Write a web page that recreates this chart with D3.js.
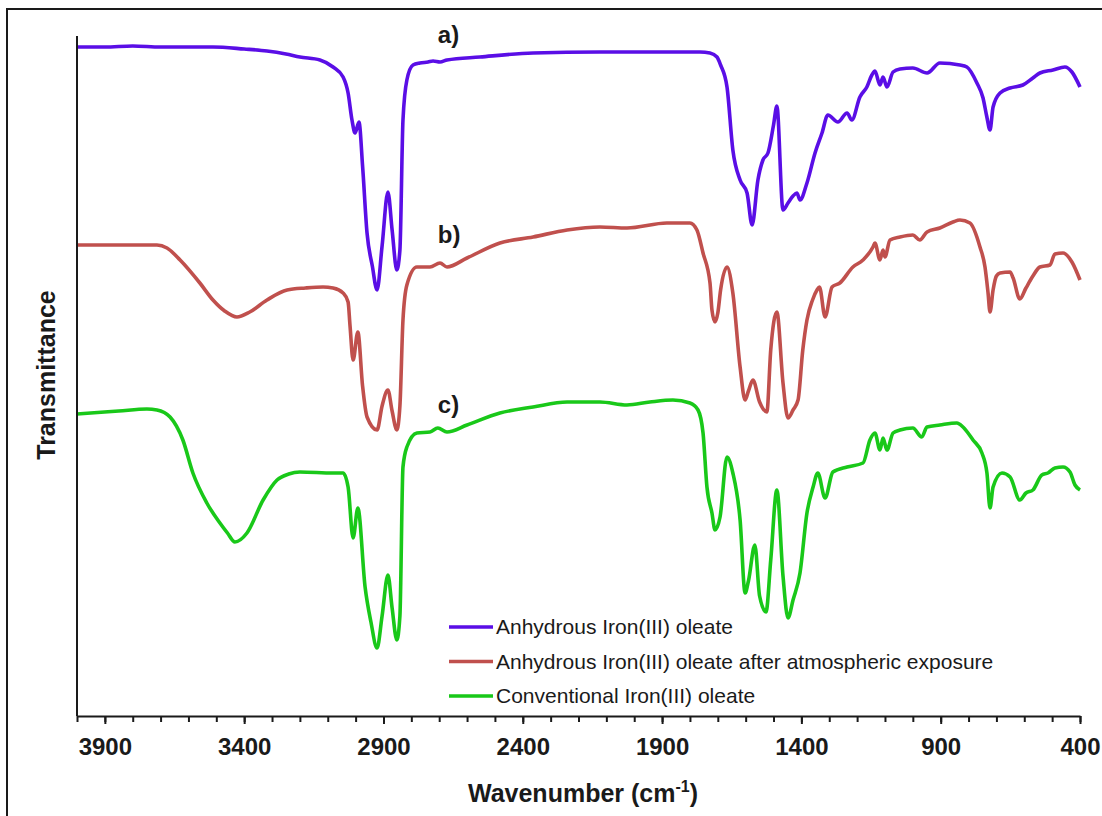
<!DOCTYPE html>
<html>
<head>
<meta charset="utf-8">
<script src="https://cdn.jsdelivr.net/npm/d3@7"></script>
<style>
  body { margin: 0; background: #fff; }
  svg { display: block; font-family: "Liberation Sans", Arial, sans-serif; }
</style>
</head>
<body>
<svg id="chart" width="1102" height="816"></svg>
<script>
// FTIR spectra, [wavenumber (cm-1), transmittance (a.u., offset)]
const seriesA = [
  [4000, 66.9], [3900, 66.9], [3800, 67.0], [3700, 66.9], [3600, 66.9], [3512, 66.9],
  [3400, 66.7], [3318, 66.5], [3250, 66.2], [3200, 65.9], [3128, 65.6], [3081, 64.9],
  [3045, 63.9], [3027, 62.3], [3013, 59.6], [3002, 58.3], [2988, 59.4], [2975, 55.0],
  [2959, 48.3], [2940, 45.0], [2923, 42.6], [2905, 47.0], [2884, 52.4], [2869, 48.6],
  [2852, 44.6], [2841, 46.6], [2830, 59.6], [2816, 63.6], [2794, 65.1], [2769, 65.3],
  [2740, 65.4], [2722, 65.5], [2697, 65.4], [2672, 65.6], [2554, 65.9], [2363, 66.3],
  [2123, 66.4], [1944, 66.4], [1764, 66.4], [1728, 66.3], [1703, 65.9], [1690, 65.1],
  [1667, 62.9], [1646, 56.6], [1620, 53.6], [1595, 52.3], [1577, 49.1], [1556, 53.6],
  [1538, 55.6], [1520, 56.3], [1500, 59.1], [1488, 61.0], [1466, 50.6], [1448, 51.3],
  [1430, 52.0], [1416, 52.3], [1405, 51.6], [1380, 53.3], [1351, 56.3], [1326, 58.3],
  [1305, 60.1], [1269, 59.4], [1236, 60.3], [1219, 59.6], [1190, 61.9], [1165, 62.9],
  [1147, 64.1], [1136, 64.5], [1118, 63.1], [1107, 63.9], [1093, 62.9], [1071, 64.4],
  [1046, 64.7], [1000, 64.8], [949, 64.3], [903, 65.3], [831, 65.1], [806, 64.9],
  [770, 63.3], [748, 61.8], [735, 60.0], [723, 58.6], [712, 60.9], [687, 62.3],
  [651, 62.8], [605, 63.1], [569, 63.8], [544, 64.3], [497, 64.6], [454, 64.9],
  [429, 64.4], [400, 62.9]
];

const seriesB = [
  [4000, 47.1], [3800, 47.1], [3713, 47.1], [3677, 46.8], [3630, 45.6], [3559, 43.3],
  [3512, 41.6], [3470, 40.5], [3426, 39.9], [3380, 40.4], [3318, 41.6], [3246, 42.6],
  [3180, 42.8], [3117, 42.9], [3081, 42.8], [3045, 42.3], [3027, 41.4], [3020, 39.0],
  [3009, 35.6], [2992, 38.4], [2975, 33.0], [2959, 29.9], [2923, 28.6], [2905, 31.0],
  [2884, 32.6], [2869, 30.5], [2852, 28.6], [2841, 31.0], [2830, 39.6], [2816, 43.1],
  [2780, 44.9], [2733, 44.9], [2697, 45.3], [2672, 44.9], [2600, 45.8], [2482, 47.3],
  [2363, 47.9], [2241, 48.6], [2123, 48.9], [2026, 48.8], [1883, 49.3], [1800, 49.3],
  [1775, 48.6], [1753, 46.3], [1728, 43.3], [1721, 40.6], [1710, 39.4], [1700, 40.3],
  [1690, 42.6], [1667, 44.9], [1646, 42.3], [1620, 34.9], [1602, 31.6], [1590, 32.5],
  [1574, 33.6], [1550, 31.4], [1524, 30.4], [1510, 36.6], [1488, 40.4], [1466, 33.3],
  [1448, 29.8], [1430, 30.6], [1412, 31.6], [1395, 36.6], [1380, 39.6], [1360, 41.6],
  [1344, 42.6], [1335, 42.9], [1315, 39.9], [1290, 42.9], [1262, 43.3], [1215, 44.9],
  [1179, 45.6], [1143, 46.9], [1136, 47.3], [1118, 45.6], [1107, 46.6], [1100, 45.9],
  [1082, 47.6], [1046, 47.9], [1000, 48.1], [975, 47.6], [949, 48.4], [903, 48.8],
  [856, 49.4], [831, 49.6], [795, 49.3], [759, 46.9], [741, 44.9], [730, 42.3],
  [723, 40.4], [712, 42.6], [700, 44.0], [687, 44.3], [651, 44.4], [640, 43.8],
  [616, 41.7], [594, 42.8], [569, 44.0], [544, 44.9], [508, 45.1], [490, 46.2],
  [461, 46.3], [429, 45.4], [400, 43.6]
];

const seriesC = [
  [4000, 30.2], [3850, 30.5], [3749, 30.7], [3713, 30.6], [3666, 29.9], [3620, 27.6],
  [3584, 24.3], [3534, 21.3], [3487, 19.3], [3460, 18.3], [3433, 17.4], [3390, 18.3],
  [3332, 21.6], [3282, 23.6], [3240, 24.2], [3200, 24.4], [3081, 24.3], [3045, 24.3],
  [3027, 22.9], [3009, 17.8], [2992, 20.8], [2966, 12.9], [2945, 9.4], [2923, 6.8],
  [2905, 10.0], [2884, 14.1], [2869, 10.8], [2852, 7.6], [2841, 10.0], [2830, 24.9],
  [2816, 26.9], [2780, 28.3], [2733, 28.4], [2705, 28.8], [2672, 28.4], [2600, 29.1],
  [2482, 30.3], [2363, 30.9], [2241, 31.4], [2123, 31.4], [2026, 31.1], [1944, 31.4],
  [1861, 31.6], [1800, 31.3], [1771, 30.6], [1753, 28.3], [1739, 22.9], [1721, 20.3],
  [1710, 18.6], [1692, 19.9], [1667, 25.9], [1646, 24.3], [1620, 19.6], [1602, 12.3],
  [1590, 13.5], [1567, 17.1], [1550, 12.0], [1527, 10.4], [1510, 15.6], [1488, 22.6],
  [1466, 14.0], [1448, 9.8], [1430, 11.6], [1405, 14.3], [1380, 20.3], [1358, 22.9],
  [1341, 24.3], [1315, 21.8], [1287, 24.4], [1236, 24.9], [1179, 25.3], [1154, 27.6],
  [1136, 28.3], [1118, 26.6], [1107, 27.8], [1093, 26.6], [1071, 28.3], [1046, 28.6],
  [1000, 28.8], [968, 27.9], [949, 28.9], [903, 29.1], [842, 29.3], [820, 28.9],
  [784, 27.6], [752, 26.3], [734, 24.3], [723, 20.8], [712, 22.9], [680, 24.3],
  [651, 23.9], [616, 21.6], [594, 22.3], [569, 22.6], [537, 24.1], [515, 24.3],
  [490, 24.8], [461, 24.9], [436, 24.4], [418, 23.1], [400, 22.6]
];

const seriesNames = [
  'Anhydrous Iron(III) oleate',
  'Anhydrous Iron(III) oleate after atmospheric exposure',
  'Conventional Iron(III) oleate'
];
const seriesColors = ['#5a0ee6', '#c0504d', '#19c819'];
const curveLabels = ['a)', 'b)', 'c)'];
const labelAnchors = [[2705, 67.3], [2705, 47.3], [2705, 30.3]];

const majorTicks = [3900, 3400, 2900, 2400, 1900, 1400, 900, 400];
const minorTicks = d3.range(400, 4001, 100);

const svg = d3.select('#chart');
const ink = '#1a1a1a';

/** Scales */
const x = d3.scaleLinear().domain([4000, 400]).range([77, 1080]);
const y = d3.scaleLinear().domain([0, 68]).range([716, 36]);

/** Outer frame (only left and top edges fall inside the picture) */
svg.append('rect')
  .attr('x', 7).attr('y', 9)
  .attr('width', 1120).attr('height', 830)
  .attr('fill', 'none')
  .attr('stroke', ink)
  .attr('stroke-width', 2);

/** Spectra */
const line = d3.line()
  .x(d => x(d[0]))
  .y(d => y(d[1]))
  .curve(d3.curveMonotoneX);

[seriesA, seriesB, seriesC].forEach((s, i) => {
  svg.append('path')
    .datum(s)
    .attr('fill', 'none')
    .attr('stroke', seriesColors[i])
    .attr('stroke-width', 3.6)
    .attr('stroke-linejoin', 'round')
    .attr('d', line);
});

/** Curve labels a) b) c) */
svg.selectAll('.curve-label')
  .data(curveLabels)
  .enter()
  .append('text')
  .attr('class', 'curve-label')
  .attr('x', (d, i) => x(labelAnchors[i][0]))
  .attr('y', (d, i) => y(labelAnchors[i][1]))
  .attr('font-size', 24)
  .attr('font-weight', 'bold')
  .attr('fill', ink)
  .text(d => d);

/** Y axis: plain line, no ticks */
svg.append('line')
  .attr('x1', 77).attr('x2', 77)
  .attr('y1', y(68)).attr('y2', y(0))
  .attr('stroke', ink)
  .attr('stroke-width', 2);

/** X axis: minor ticks then labelled major ticks */
const minorAxis = svg.append('g')
  .attr('transform', `translate(0,${y(0)})`)
  .call(d3.axisBottom(x).tickValues(minorTicks).tickSize(6).tickFormat('').tickSizeOuter(0));
minorAxis.select('.domain').attr('stroke', ink).attr('stroke-width', 2);
minorAxis.selectAll('.tick line').attr('stroke', ink).attr('stroke-width', 2);

const majorAxis = svg.append('g')
  .attr('transform', `translate(0,${y(0)})`)
  .call(d3.axisBottom(x).tickValues(majorTicks).tickSize(8).tickFormat(d3.format('d')).tickSizeOuter(0));
majorAxis.select('.domain').remove();
majorAxis.selectAll('.tick line').attr('stroke', ink).attr('stroke-width', 2);
majorAxis.selectAll('.tick text')
  .attr('y', 22)
  .attr('font-size', 24)
  .attr('font-weight', 'bold')
  .attr('font-family', '"Liberation Sans", Arial, sans-serif')
  .attr('fill', ink);

/** Axis titles */
const xTitle = svg.append('text')
  .attr('x', 583).attr('y', 802)
  .attr('text-anchor', 'middle')
  .attr('font-size', 25)
  .attr('font-weight', 'bold')
  .attr('fill', ink);
xTitle.append('tspan').text('Wavenumber (cm');
xTitle.append('tspan').attr('font-size', 16).attr('dy', -10).text('-1');
xTitle.append('tspan').attr('dy', 10).text(')');

svg.append('text')
  .attr('transform', 'translate(55,375) rotate(-90)')
  .attr('text-anchor', 'middle')
  .attr('font-size', 25)
  .attr('font-weight', 'bold')
  .attr('fill', ink)
  .text('Transmittance');

/** Legend */
const legend = svg.selectAll('.legend')
  .data(seriesNames)
  .enter()
  .append('g')
  .attr('class', 'legend')
  .attr('transform', (d, i) => `translate(449,${627 + i * 34.5})`);

legend.append('line')
  .attr('x1', 0).attr('x2', 44)
  .attr('stroke', (d, i) => seriesColors[i])
  .attr('stroke-width', 3.5);

legend.append('text')
  .attr('x', 47)
  .attr('dy', '0.35em')
  .attr('font-size', 21)
  .attr('fill', ink)
  .text(d => d);
</script>
</body>
</html>
